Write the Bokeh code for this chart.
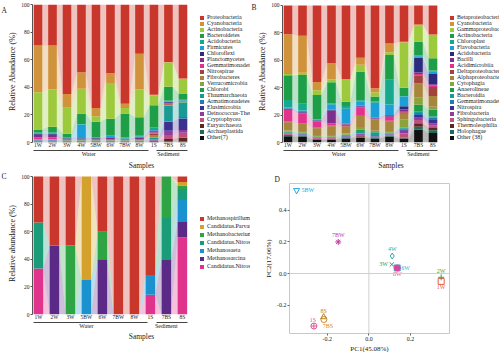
import numpy as np
from bokeh.plotting import figure
from bokeh.models import (Range1d, FixedTicker, LinearAxis, Legend, LegendItem,
                          Label, Span, ColumnDataSource, Title)
from bokeh.layouts import row, column
from bokeh.embed import file_html
from bokeh.resources import INLINE
from bokeh.core.properties import value

FONT = "Liberation Serif"

# ------------------------------------------------------------------ data
samples_ab = ["1W", "2W", "3W", "4W", "5BW", "6W", "7BW", "8W", "1S", "7BS", "8S"]
groups_ab = ["Water"] * 8 + ["Sediment"] * 3
samples_c = ["1W", "2W", "3W", "5BW", "6W", "7BW", "8W", "1S", "7BS", "8S"]
groups_c = ["Water"] * 7 + ["Sediment"] * 3
y_ticks = [0, 20, 40, 60, 80, 100]

# Panel A (phylum level), legend order = top of stack first
a_names = ["Proteobacteria", "Cyanobacteria", "Actinobacteria", "Bacteroidetes",
           "Acidobacteria", "Firmicutes", "Chloroflexi", "Planctomycetes",
           "Gemmatimonadetes", "Nitrospirae", "Fibrobacteres", "Verrucomicrobia",
           "Chlorobi", "Thaumarchaeota", "Armatimonadetes", "Elusimicrobia",
           "Deinococcus-Thermus", "Cryptophycea", "Euryarchaeota", "Archaeplastida",
           "Other(7)"]
a_proteobacteria = [29.5, 29.5, 64.7, 49, 75, 49.8, 71.9, 35.6, 65.4, 41.5, 53.5]
a_cyanobacteria = [34, 32, 10, 12, 6, 7, 3, 26, 0.5, 0.5, 0.4]
a_actinobacteria = [27, 27, 19, 18, 4, 26, 4, 20, 7, 17.5, 10.5]
a_bacteroidetes = [2.0, 4.0, 2.5, 7.5, 11.0, 12.0, 17.5, 13.5, 16.0, 10.0, 4.5]
a_acidobacteria = [0.6, 0.6, 0.5, 0.5, 0.5, 0.5, 0.5, 0.5, 2.0, 0.8, 0.5]
a_firmicutes = [0.5, 0.5, 0.3, 10.0, 0.3, 0.8, 0.3, 0.5, 0.3, 0.3, 0.2]
a_chloroflexi = [0.8, 0.8, 0.3, 0.3, 0.3, 0.5, 0.3, 0.5, 0.8, 0.5, 0.2]
a_planctomycetes = [2.0, 2.0, 0.5, 0.5, 0.5, 1.0, 0.3, 1.0, 0.7, 0.5, 0.2]
a_gemmatimonadetes = [1.0, 1.0, 0.3, 0.3, 0.5, 0.5, 0.3, 0.5, 0.7, 0.5, 0.2]
a_nitrospirae = [0.2, 0.2, 0.1, 0.1, 0.1, 0.1, 0.1, 0.1, 1.2, 0.5, 0.2]
a_fibrobacteres = [0.2, 0.2, 0.1, 0.1, 0.1, 0.1, 0.1, 0.1, 1.5, 0.3, 0.2]
a_verrucomicrobia = [0.2, 0.2, 0.2, 0.2, 0.2, 0.2, 0.2, 0.2, 0.3, 0.3, 0.2]
a_chlorobi = [0.1, 0.1, 0.1, 0.1, 0.1, 0.1, 0.1, 0.1, 0.3, 0.3, 0.2]
a_thaumarchaeota = [0.2, 0.2, 0.1, 0.1, 0.1, 0.1, 0.1, 0.1, 1.0, 11.0, 10.5]
a_armatimonadetes = [0.2, 0.2, 0.1, 0.1, 0.1, 0.1, 0.1, 0.1, 0.3, 0.5, 1.0]
a_elusimicrobia = [0.2, 0.2, 0.1, 0.1, 0.1, 0.1, 0.1, 0.1, 0.3, 6.5, 8.5]
a_deinococcus = [0.3, 0.3, 0.2, 0.2, 0.2, 0.2, 0.2, 0.2, 0.3, 3.0, 2.0]
a_cryptophycea = [0.3, 0.3, 0.2, 0.2, 0.2, 0.2, 0.2, 0.2, 0.3, 3.0, 3.5]
a_euryarchaeota = [0.2, 0.2, 0.2, 0.2, 0.2, 0.2, 0.2, 0.2, 0.3, 1.5, 2.5]
a_archaeplastida = [0.2, 0.2, 0.2, 0.2, 0.2, 0.2, 0.2, 0.2, 0.3, 0.5, 0.5]
a_other = [0.3, 0.3, 0.3, 0.3, 0.3, 0.3, 0.3, 0.3, 0.5, 0.5, 0.5]
a_series = [a_proteobacteria, a_cyanobacteria, a_actinobacteria, a_bacteroidetes,
            a_acidobacteria, a_firmicutes, a_chloroflexi, a_planctomycetes,
            a_gemmatimonadetes, a_nitrospirae, a_fibrobacteres, a_verrucomicrobia,
            a_chlorobi, a_thaumarchaeota, a_armatimonadetes, a_elusimicrobia,
            a_deinococcus, a_cryptophycea, a_euryarchaeota, a_archaeplastida, a_other]

# Panel B (class level)
b_names = ["Betaproteobacteria", "Cyanobacteria", "Gammaproteobacteria", "Actinobacteria",
           "Chloroplast", "Flavobacteria", "Acidobacteria", "Bacilli", "Acidimicrobiia",
           "Deltaproteobacteria", "Alphaproteobacteria", "Cytophagia", "Anaerolineae",
           "Bacteroidia", "Gemmatimonadetes", "Nitrospira", "Fibrobacteria",
           "Sphingobacteria", "Thermoleophilia", "Holophagae", "Other (38)"]
b_beta = [21, 22.2, 55.8, 42.1, 53.8, 38.2, 60.5, 27.7, 26.5, 14, 21]
b_cyano = [29, 27, 6, 12, 0.5, 5, 3, 6.5, 0.5, 0.5, 0.5]
b_gamma = [1.0, 1.5, 3.5, 2.0, 16, 5.0, 3.0, 2.0, 33, 12, 17]
b_actino = [18, 21, 17.5, 15.5, 3.0, 21, 3.5, 18, 6.0, 10, 9.0]
b_chloroplast = [5.5, 5.0, 0.5, 0.5, 2.0, 1.0, 1.0, 18.0, 0.5, 0.5, 0.5]
b_flavo = [0.7, 1.0, 0.5, 4.0, 11.0, 3.0, 11.0, 8.0, 7.0, 1.0, 2.0]
b_acido = [0.5, 0.5, 0.3, 0.5, 0.3, 0.5, 0.3, 0.5, 2.5, 11.0, 7.5]
b_bacilli = [0.5, 0.5, 0.5, 9.5, 0.3, 0.5, 0.3, 0.5, 1.5, 1.0, 1.0]
b_acidimicrobiia = [8.5, 7.0, 4.5, 1.5, 1.0, 6.0, 0.5, 3.0, 0.5, 1.0, 1.0]
b_delta = [0.5, 0.5, 0.5, 0.5, 0.5, 0.5, 0.3, 0.5, 1.0, 6.0, 6.5]
b_alpha = [6.0, 5.5, 5.0, 6.5, 5.0, 8.0, 8.0, 7.0, 4.0, 10.0, 8.0]
b_cytophagia = [1.0, 1.0, 1.0, 1.0, 1.0, 2.0, 1.0, 1.0, 6.0, 5.5, 2.0]
b_anaerolineae = [0.5, 0.5, 0.3, 0.3, 0.3, 1.0, 0.3, 0.5, 0.5, 5.0, 5.0]
b_bacteroidia = [0.5, 0.5, 0.3, 0.3, 0.5, 1.5, 2.5, 0.5, 0.5, 1.0, 1.0]
b_gemma = [0.3, 0.3, 0.3, 0.3, 0.3, 0.5, 0.3, 0.3, 0.5, 1.5, 1.5]
b_nitrospira = [0.2, 0.2, 0.2, 0.2, 0.2, 0.3, 0.2, 0.2, 1.0, 2.0, 2.5]
b_fibrobacteria = [0.3, 0.3, 0.2, 0.2, 0.2, 0.5, 0.2, 0.3, 2.0, 1.5, 1.5]
b_sphingo = [0.5, 0.5, 0.5, 0.5, 0.5, 1.0, 0.5, 0.5, 3.0, 2.5, 2.0]
b_thermoleophilia = [0.5, 0.5, 0.3, 0.3, 0.3, 0.5, 0.3, 0.5, 0.5, 2.5, 1.5]
b_holophagae = [0.5, 0.5, 0.3, 0.3, 0.3, 0.5, 0.3, 0.5, 0.5, 2.0, 2.0]
b_other = [4.5, 4.0, 2.0, 2.0, 3.0, 3.5, 3.0, 4.0, 2.5, 9.5, 7.0]
b_series = [b_beta, b_cyano, b_gamma, b_actino, b_chloroplast, b_flavo, b_acido,
            b_bacilli, b_acidimicrobiia, b_delta, b_alpha, b_cytophagia, b_anaerolineae,
            b_bacteroidia, b_gemma, b_nitrospira, b_fibrobacteria, b_sphingo,
            b_thermoleophilia, b_holophagae, b_other]

# Panel C (archaeal genera)
c_names = ["Methanospirillum", "Candidatus.Parvarchaeum", "Methanobacterium",
           "Candidatus.Nitrososphaera", "Methanosaeta", "Methanosarcina",
           "Candidatus.Nitrosoarchaeum"]
c_methanospirillum = [33.4, 50, 50, 0, 40, 100, 100, 71.4, 0, 4]
c_parvarchaeum = [0, 0, 0, 75, 0, 0, 0, 0, 0, 2.5]
c_methanobacterium = [0, 0, 50, 0, 20, 0, 0, 0, 30, 2.5]
c_nitrososphaera = [33.3, 0, 0, 0, 0, 0, 0, 0, 30, 8]
c_methanosaeta = [0, 0, 0, 25, 0, 0, 0, 14.3, 0, 16]
c_methanosarcina = [0, 50, 0, 0, 40, 0, 0, 0, 40, 11]
c_nitrosoarchaeum = [33.3, 0, 0, 0, 0, 0, 0, 14.3, 0, 56]
c_series = [c_methanospirillum, c_parvarchaeum, c_methanobacterium, c_nitrososphaera,
            c_methanosaeta, c_methanosarcina, c_nitrosoarchaeum]

# Panel D (PCA)
d_samples = ["1W", "2W", "3W", "4W", "5BW", "6W", "7BW", "8W", "1S", "7BS", "8S"]
d_pc1 = [0.347, 0.347, 0.110, 0.112, -0.347, 0.136, -0.147, 0.136, -0.264, -0.216, -0.217]
d_pc2 = [-0.050, -0.024, 0.057, 0.110, 0.524, 0.035, 0.199, 0.035, -0.331, -0.290, -0.274]
pc1_ticks = [-0.2, 0.0, 0.2]
pc1_tick_labels = ["-0.2", "0.0", "0.2"]
pc2_ticks = [-0.2, 0.0, 0.2, 0.4]
pc2_tick_labels = ["-0.2", "0.0", "0.2", "0.4"]

# ------------------------------------------------------------------ styles
pal21 = ["#c9372c", "#d0923a", "#9dc93c", "#1f9e48", "#17a98e", "#1b9fd6", "#2c2a7c",
         "#7e2f8e", "#e2338c", "#a3433e", "#a8853c", "#8aa33a", "#1c9c4a", "#1a9a94",
         "#1e7fb8", "#3a3190", "#8e3d9e", "#bf4f7e", "#5a2a22", "#1b6a5a", "#111111"]
pal7 = ["#c9372c", "#d4a12c", "#2fa444", "#1a9c78", "#1b92d0", "#5b2a86", "#e0338c"]

d_colors = ["#e0604a", "#3aa64a", "#2f9e55", "#35a89a", "#2aa3d8", "#4aa8d8",
            "#c0399e", "#d9449f", "#e8559a", "#d18a25", "#b8861e"]
d_markers = ["square", "cross", "x", "diamond", "inverted_triangle", "square_x",
             "asterisk", "circle", "circle_cross", "circle", "triangle"]
d_fill = [0, 0, 0, 0, 0, 0, 0, 1, 0, 0, 0]
d_dx = [0, 0, -4, 0, 5, 4, 0, 0, -1, 4, 0]
d_dy = [6, -6, 0, -7, 0, 0, -7, 6, -6, 6, -6]
d_align = ["center", "center", "right", "center", "left", "left", "center", "center",
           "center", "center", "center"]

TXT = "#222222"


def style_axis(ax, tick_size="5.5px"):
    ax.major_label_text_font = FONT
    ax.major_label_text_font_size = tick_size
    ax.major_label_text_color = TXT
    ax.axis_label_text_font = FONT
    ax.axis_label_text_font_style = "normal"
    ax.axis_label_text_color = TXT
    ax.minor_tick_line_color = None
    ax.minor_tick_out = 0
    ax.minor_tick_in = 0


def stacked_panel(samples, groups, names, series, colors, ylabel, letter, width, height,
                  left, bottom, x_range, y_end, legend_loc, legend_h, legend_font,
                  group_dash, letter_y, samples_standoff):
    n = len(samples)
    pos = np.arange(1, n + 1, dtype=float)
    bw = 0.6
    p = figure(width=width, height=height, output_backend="svg", toolbar_location=None,
               title=None, x_range=Range1d(*x_range), y_range=Range1d(0, y_end),
               min_border_left=left, min_border_right=0,
               min_border_top=0, min_border_bottom=bottom)
    p.grid.visible = False
    p.outline_line_color = None
    p.background_fill_color = "white"

    layers = list(zip(names, series, colors))[::-1]   # bottom layer first
    bases, tops = [], []
    base = np.zeros(n)
    for _, vals, _ in layers:
        t = base + np.asarray(vals, float)
        bases.append(base)
        tops.append(t)
        base = t

    for (name, vals, col), b0, t0 in zip(layers, bases, tops):
        xs, ys = [], []
        for i in range(n - 1):
            xa = pos[i] + bw / 2
            xb = pos[i + 1] - bw / 2
            xs.append([xa, xa, xb, xb])
            ys.append([b0[i], t0[i], t0[i + 1], b0[i + 1]])
        p.patches(xs, ys, fill_color=col, fill_alpha=0.3, line_color=None)

    rends = {}
    for (name, vals, col), b0, t0 in zip(layers, bases, tops):
        src = ColumnDataSource(dict(x=pos, bottom=b0, top=t0))
        rends[name] = p.vbar(x="x", bottom="bottom", top="top", width=bw,
                             fill_color=col, line_color=None, source=src)

    yax = p.yaxis[0]
    yax.ticker = FixedTicker(ticks=y_ticks)
    yax.bounds = (0, 100)
    yax.axis_label = ylabel
    yax.axis_label_text_font_size = "8px"
    yax.axis_label_standoff = 1
    yax.major_label_standoff = 1
    yax.major_tick_out = 2
    yax.major_tick_in = 0
    yax.axis_line_color = "#555555"
    yax.major_tick_line_color = "#555555"
    style_axis(yax)

    xax = p.xaxis[0]
    xax.ticker = FixedTicker(ticks=list(pos))
    xax.major_label_overrides = {int(x): s for x, s in zip(pos, samples)}
    xax.axis_line_color = None
    xax.major_tick_line_color = None
    xax.major_tick_out = 0
    xax.major_tick_in = 0
    xax.major_label_standoff = -1
    xax.major_label_text_line_height = 1.0
    style_axis(xax, "5.5px")

    gnames = list(dict.fromkeys(groups))
    gpos = [float(np.mean([x for x, g in zip(pos, groups) if g == gn])) for gn in gnames]
    gax = LinearAxis(ticker=FixedTicker(ticks=gpos),
                     major_label_overrides={gp: gn for gp, gn in zip(gpos, gnames)},
                     axis_label="Samples", bounds=(pos[0] - bw / 2, pos[-1] + bw / 2))
    gax.axis_line_color = "#444444"
    gax.axis_line_width = 1
    gax.axis_line_dash = group_dash
    gax.major_tick_line_color = None
    gax.major_tick_out = 0
    gax.major_tick_in = 0
    gax.major_label_standoff = 0
    gax.major_label_text_line_height = 1.0
    gax.axis_label_text_line_height = 1.0
    gax.axis_label_standoff = samples_standoff
    gax.axis_label_text_font_size = "7.5px"
    style_axis(gax, "6px")
    p.add_layout(gax, "below")

    items = [LegendItem(label=nm, renderers=[rends[nm]]) for nm in names]
    leg = Legend(items=items, location=legend_loc, orientation="vertical",
                 padding=0, margin=0, spacing=0, label_height=legend_h,
                 glyph_height=5, glyph_width=5, label_standoff=3,
                 label_text_font=FONT, label_text_font_size=legend_font,
                 label_text_color=TXT, background_fill_alpha=0,
                 border_line_color=None)
    p.add_layout(leg)

    p.add_layout(Label(x=1, y=letter_y, x_units="screen", y_units="data", text=letter,
                       text_font=FONT, text_font_size="7.5px", text_color=TXT,
                       text_baseline="middle", text_align="left"), "left")
    return p


pA = stacked_panel(samples_ab, groups_ab, a_names, a_series, pal21,
                   "Relative Abundance (%)", "A", 250, 172, 21, 30,
                   (0.62, 15.66), 103.1, (167, 2), 1, "6px", "115 8 40", 96, 1)
pB = stacked_panel(samples_ab, groups_ab, b_names, b_series, pal21,
                   "Relative Abundance (%)", "B", 249, 172, 21, 29,
                   (0.62, 15.59), 103.6, (167, 2), 1, "6px", "115 8 40", 98.5, 1)
pC = stacked_panel(samples_c, groups_c, c_names, c_series, pal7,
                   "Relative abundance (%)", "C", 250, 180, 21, 38,
                   (0.63, 14.26), 102.9, (167, 44), 8, "6px", "114 9 38", 100.3, 0)

# ------------------------------------------------------------------ panel D
pD = figure(frame_width=160, frame_height=150, output_backend="svg",
            toolbar_location=None, title=None,
            x_range=Range1d(-0.381, 0.387), y_range=Range1d(-0.378, 0.567),
            min_border_left=39, min_border_right=50, min_border_top=0,
            min_border_bottom=17)
pD.add_layout(Title(text="D", align="left", offset=-15, standoff=0,
                    text_font=FONT, text_font_size="7.5px", text_font_style="normal",
                    text_color=TXT, text_line_height=1.0), "above")
pD.grid.visible = False
pD.outline_line_color = "#c8c8c8"
pD.add_layout(Span(location=0, dimension="width", line_color="#cfcfcf", line_width=1))
pD.add_layout(Span(location=0, dimension="height", line_color="#cfcfcf", line_width=1))
src = ColumnDataSource(dict(x=d_pc1, y=d_pc2, name=d_samples, marker=d_markers,
                            color=d_colors, fa=d_fill, dx=d_dx, dy=d_dy, align=d_align))
pD.scatter("x", "y", marker="marker", size=6, line_color="color", fill_color="color",
           fill_alpha="fa", line_width=1, source=src)
pD.text("x", "y", text="name", x_offset="dx", y_offset="dy", text_align="align",
        text_baseline="middle", text_color="color", text_font=value(FONT),
        text_font_size="6px", source=src)
xa = pD.xaxis[0]
xa.ticker = FixedTicker(ticks=pc1_ticks)
xa.major_label_overrides = {t: s for t, s in zip(pc1_ticks, pc1_tick_labels)}
xa.axis_label = "PC1(45.08%)"
ya = pD.yaxis[0]
ya.ticker = FixedTicker(ticks=pc2_ticks)
ya.major_label_overrides = {t: s for t, s in zip(pc2_ticks, pc2_tick_labels)}
ya.axis_label = "PC2(17.06%)"
for ax in (xa, ya):
    style_axis(ax, "6px")
    ax.axis_line_color = None
    ax.major_tick_out = 2
    ax.major_tick_in = 0
    ax.major_tick_line_color = "#666666"
    ax.major_label_standoff = 1
    ax.axis_label_standoff = 1
    ax.axis_label_text_font_size = "7px"
    ax.major_label_text_line_height = 1.0
    ax.axis_label_text_line_height = 1.0

layout = column(row(column(pA), column(pB)), row(column(pC), column(pD)))
open("out.html", "w").write(file_html(layout, INLINE))
